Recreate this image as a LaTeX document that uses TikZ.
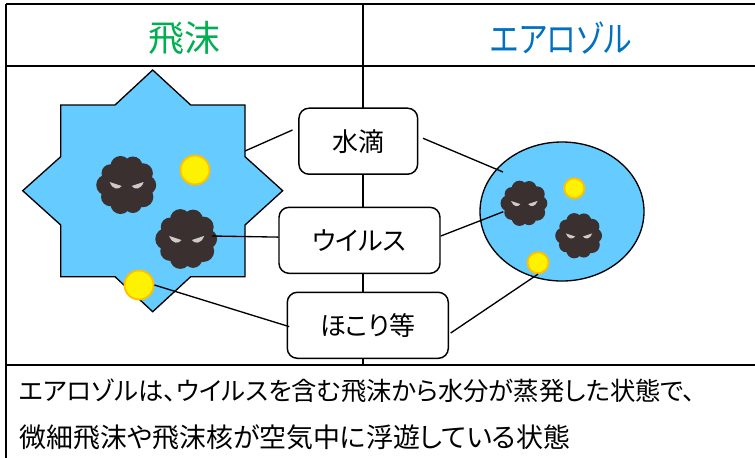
\documentclass[tikz,border=0pt]{standalone}
\usepackage{xcolor}
\usepackage{fontspec}
\setmainfont{Noto Sans CJK JP}[RawFeature=+palt]
\usepackage{tikz}

\definecolor{dropblue}{HTML}{66CCFF}
\definecolor{headgreen}{HTML}{00B050}
\definecolor{headblue}{HTML}{0070C0}
\definecolor{germbrown}{HTML}{3A3030}
\definecolor{germeye}{HTML}{CFCACA}
\definecolor{dustedge}{HTML}{FFC000}

% one virus: center, scale (radius 30 at scale 1)
\newcommand{\germ}[2]{%
  \begin{scope}[shift={#1}, scale=#2]
    \fill[germbrown] (0,0) circle (21);
    \foreach \a/\r in {0/9.5, 36/10.5, 72/9, 108/10, 144/9.5, 180/10.5, 216/9, 252/10, 288/9.5, 324/10}
      \fill[germbrown] (\a:20) circle (\r);
    \fill[germeye] (-17,-3) -- (-5,1) .. controls (-8,5) and (-14,5) .. (-17,-3) -- cycle;
    \fill[germeye] (17,-3) -- (5,1) .. controls (8,5) and (14,5) .. (17,-3) -- cycle;
  \end{scope}}

\begin{document}
\begin{tikzpicture}[x=0.75pt, y=-0.75pt,
  rule/.style={line width=1.6pt},
  lblbox/.style={draw, fill=white, line width=1.1pt, rounded corners=7.5pt,
    minimum height=49.5pt, font=\fontsize{19.5}{23}\selectfont},
  dust/.style={circle, draw=dustedge, fill=yellow, line width=1.4pt, inner sep=0pt},
  link/.style={line width=1pt}]
\useasboundingbox (0,0) rectangle (755,457);

% table frame
\draw[rule] (6,4) -- (757,4);
\draw[rule] (6,4) -- (6,459);
\draw[rule] (6,66) -- (757,66);
\draw[rule] (6,365) -- (757,365);
\draw[line width=1.1pt] (363,4) -- (363,365);

\node[text=headgreen, font=\fontsize{27}{30}\selectfont] (hdrL) at (184,38) {飛沫};
\node[text=headblue, font=\fontsize{27}{30}\selectfont] (hdrR) at (561,38) {\scalebox{0.83}[1]{エアロゾル}};

% droplet and aerosol
\draw[fill=dropblue, line width=1pt]
  (152.7,70) -- (190.7,105) -- (245,105) -- (245,156.7) -- (282.7,190.7)
  -- (245,225) -- (245,276.7) -- (190.7,276.7) -- (152.7,311.7) -- (115,276.7)
  -- (60.7,276.7) -- (60.7,225) -- (22.7,190.7) -- (60.7,156.7) -- (60.7,105)
  -- (115,105) -- cycle;
\draw[fill=dropblue, line width=1pt] (562,211.5) ellipse (82 and 69.5);

\germ{(126.7,185)}{1}
\germ{(186.7,239)}{1.03}
\germ{(524.3,203.3)}{0.78}
\germ{(579,235.7)}{0.78}

\node[dust, minimum size=21.75pt] (d1) at (195,170) {};
\node[dust, minimum size=21.75pt] (d2) at (139,285) {};
\node[dust, minimum size=15pt] (d3) at (574.3,188.3) {};
\node[dust, minimum size=15.75pt] (d4) at (538,262.7) {};

% label boxes
\node[lblbox, minimum width=89pt] (wtr) at (358.3,141.2) {水滴};
\node[lblbox, minimum width=120.75pt] (vir) at (359.5,240.3) {ウイルス};
\node[lblbox, minimum width=120.75pt] (dst) at (367.8,325.3) {ほこり等};

\coordinate (starR) at (245,151);
\coordinate (aeroL) at (503,172);
\coordinate (germB) at (212,236);
\coordinate (germC) at (503.3,211.7);

\draw[link] ([xshift=-4.3pt, yshift=8.4pt]wtr.west) -- (starR);
\draw[link] ([xshift=3.5pt, yshift=2.2pt]wtr.east) -- (aeroL);
\draw[link] ([yshift=2.4pt]vir.west) -- (germB);
\draw[link] ([yshift=3.2pt]vir.east) -- (germC);
\draw[link] ([xshift=2pt, yshift=-1pt]dst.west) -- (d2.east);
\draw[link] ([xshift=1.2pt, yshift=-5.8pt]dst.east) -- (d4.south);

% note below the table
\node[anchor=west, inner sep=0pt, font=\fontsize{19}{23}\selectfont] (note1) at (19,391)
  {エアロゾルは、ウイルスを含む飛沫から水分が蒸発した状態で、};
\node[anchor=west, inner sep=0pt, font=\fontsize{20.2}{23}\selectfont] (note2) at (19,437)
  {微細飛沫や飛沫核が空気中に浮遊している状態};
\end{tikzpicture}
\end{document}
